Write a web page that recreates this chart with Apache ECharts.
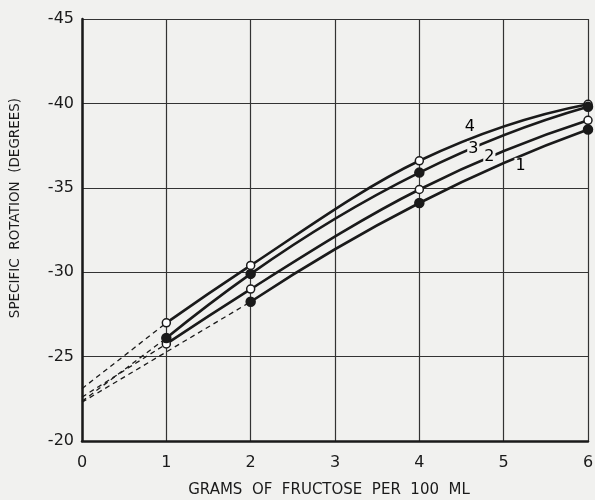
<!DOCTYPE html>
<html>
<head>
<meta charset="utf-8">
<script src="https://cdn.jsdelivr.net/npm/echarts@6/dist/echarts.min.js"></script>
<style>
html,body{margin:0;padding:0;background:#f1f1ef;}
#c{width:595px;height:500px;}
</style>
</head>
<body>
<div id="c"></div>
<script>
// Data
var xTicks = [0, 1, 2, 3, 4, 5, 6];
var yTicks = [-45, -40, -35, -30, -25, -20];
var xs = [1, 2, 4, 6];
var curve4 = [-27.0, -30.4, -36.6, -39.95];
var curve3 = [-26.1, -29.9, -35.9, -39.8];
var curve2 = [-25.75, -29.0, -34.9, -39.0];
var xs1 = [2, 4, 6];
var curve1 = [-28.25, -34.1, -38.45];
// extrapolated values at zero concentration (dashed)
var intercepts = {c4: -23.1, c3: -22.35, c2: -22.6, c1: -22.3};
// curve numbers
var curveNames = ['4', '3', '2', '1'];
var curveLabelX = [4.6, 4.64, 4.83, 5.2];
var curveLabelY = [-38.6, -37.3, -36.85, -36.3];

var xTitle = 'GRAMS  OF  FRUCTOSE  PER  100  ML';
var yTitle = 'SPECIFIC  ROTATION  (DEGREES)';

function pairs(xa, ya) { return xa.map(function (x, i) { return [x, ya[i]]; }); }

var bg = '#f1f1ef';
var ink = '#1a1a1a';
var font = 'DejaVu Sans';

// slopes for a smooth (hand-drawn-like) curve through the points
function slopes(p) {
  var n = p.length, m = [];
  for (var i = 0; i < n; i++) {
    if (i === 0) {
      var h0 = p[1][0] - p[0][0], h1 = p[2][0] - p[1][0];
      var d0 = (p[1][1] - p[0][1]) / h0, d1 = (p[2][1] - p[1][1]) / h1;
      m.push(d0 + (d0 - d1) * h0 / (h0 + h1));
    } else if (i === n - 1) {
      var g0 = p[n - 2][0] - p[n - 3][0], g1 = p[n - 1][0] - p[n - 2][0];
      var e0 = (p[n - 2][1] - p[n - 3][1]) / g0, e1 = (p[n - 1][1] - p[n - 2][1]) / g1;
      m.push(e1 + (e1 - e0) * g1 / (g0 + g1));
    } else {
      var a0 = p[i][0] - p[i - 1][0], a1 = p[i + 1][0] - p[i][0];
      var b0 = (p[i][1] - p[i - 1][1]) / a0, b1 = (p[i + 1][1] - p[i][1]) / a1;
      m.push((b0 * a1 + b1 * a0) / (a0 + a1));
    }
  }
  return m;
}

function curveSeries(points) {
  return {
    type: 'custom', z: 3, animation: false, silent: true,
    data: [[points[0][0], points[0][1]]],
    renderItem: function (params, api) {
      var m = slopes(points);
      var c = api.coord(points[0]);
      var d = 'M' + c[0] + ' ' + c[1];
      for (var i = 0; i < points.length - 1; i++) {
        var h = points[i + 1][0] - points[i][0];
        var c1 = api.coord([points[i][0] + h / 3, points[i][1] + m[i] * h / 3]);
        var c2 = api.coord([points[i + 1][0] - h / 3, points[i + 1][1] - m[i + 1] * h / 3]);
        var e = api.coord(points[i + 1]);
        d += ' C' + c1[0] + ' ' + c1[1] + ' ' + c2[0] + ' ' + c2[1] + ' ' + e[0] + ' ' + e[1];
      }
      return {type: 'path', shape: {pathData: d},
        style: {fill: null, stroke: ink, lineWidth: 2.6}};
    }
  };
}
function markers(points, filled) {
  return {
    type: 'scatter', data: points, symbol: 'circle', symbolSize: filled ? 9 : 8,
    itemStyle: {color: filled ? ink : '#ffffff', borderColor: ink, borderWidth: 1.5, opacity: 1},
    z: filled ? 6 : 5, animation: false
  };
}
function dashed(y0, x1, y1) {
  return {
    type: 'line', data: [[0, y0], [x1, y1]], symbol: 'none',
    lineStyle: {color: ink, width: 1.3, type: [5, 4]}, z: 2, animation: false
  };
}

var p4 = pairs(xs, curve4), p3 = pairs(xs, curve3), p2 = pairs(xs, curve2), p1 = pairs(xs1, curve1);

var chart = echarts.init(document.getElementById('c'));
chart.setOption({
  backgroundColor: bg,
  animation: false,
  grid: {left: 82, right: 7, top: 19, bottom: 59, containLabel: false, outerBoundsMode: 'none'},
  xAxis: {
    type: 'value', min: 0, max: 6, interval: 1,
    name: xTitle, nameLocation: 'middle', nameGap: 42,
    nameTextStyle: {color: ink, fontSize: 15, fontFamily: font, padding: [0, 12, 0, 0]},
    axisLine: {show: true, lineStyle: {color: ink, width: 2.5}},
    axisTick: {show: false},
    axisLabel: {color: ink, fontSize: 16, fontFamily: font, margin: 14,
      formatter: function (v) { return xTicks.indexOf(v) >= 0 ? String(v) : ''; }},
    splitLine: {show: true, lineStyle: {color: '#333', width: 1.2}}
  },
  yAxis: {
    type: 'value', min: -45, max: -20, interval: 5, inverse: true,
    name: yTitle, nameLocation: 'middle', nameGap: 60, nameRotate: 90,
    nameTextStyle: {color: ink, fontSize: 13.5, fontFamily: font, padding: [0, 0, 0, 44]},
    axisLine: {show: true, lineStyle: {color: ink, width: 2.5}},
    axisTick: {show: false},
    axisLabel: {color: ink, fontSize: 16, fontFamily: font, margin: 8,
      formatter: function (v) { return yTicks.indexOf(v) >= 0 ? '-' + Math.abs(v) : ''; }},
    splitLine: {show: true, lineStyle: {color: '#333', width: 1.2}}
  },
  series: [
    dashed(intercepts.c4, xs[0], curve4[0]),
    dashed(intercepts.c3, xs[0], curve3[0]),
    dashed(intercepts.c2, xs[0], curve2[0]),
    dashed(intercepts.c1, xs1[0], curve1[0]),
    curveSeries(p1), curveSeries(p2), curveSeries(p3), curveSeries(p4),
    markers(p1, true), markers(p2, false), markers(p3, true), markers(p4, false),
    {
      type: 'scatter', symbolSize: 0, z: 10, animation: false,
      itemStyle: {opacity: 1},
      data: curveNames.map(function (n, i) { return {name: n, value: [curveLabelX[i], curveLabelY[i]]}; }),
      label: {show: true, position: 'inside', formatter: '{b}', color: '#000', opacity: 1,
        fontSize: 16, fontFamily: font, backgroundColor: bg, padding: [0, 1]}
    }
  ]
});
</script>
</body>
</html>
